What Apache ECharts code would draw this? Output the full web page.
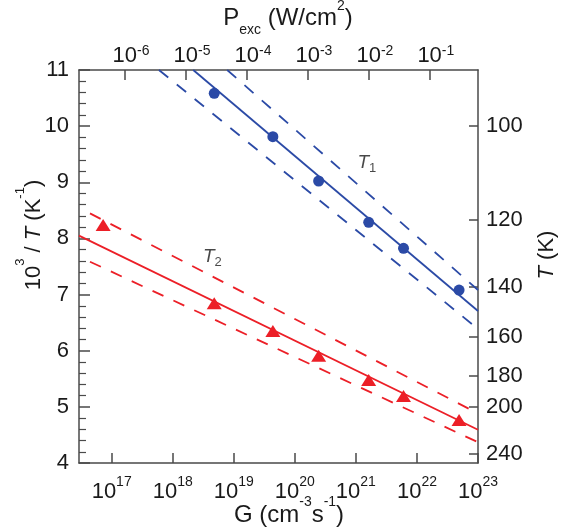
<!DOCTYPE html>
<html>
<head>
<meta charset="utf-8">
<script src="https://cdn.jsdelivr.net/npm/echarts@6/dist/echarts.min.js"></script>
<style>
  html, body { margin: 0; padding: 0; background: #fff; }
  #chart { width: 572px; height: 532px; }
</style>
</head>
<body>
<div id="chart"></div>
<script>
// Generation rate is stored as log10 G (cm^-3 s^-1); temperatures as 1000/T (K^-1).
const gT1 = [18.68, 19.64, 20.39, 21.21, 21.78, 22.69];
const invT1 = [10.585, 9.812, 9.023, 8.287, 7.824, 7.081];
const gT2 = [16.86, 18.68, 19.64, 20.39, 21.21, 21.78, 22.69];
const invT2 = [8.239, 6.844, 6.351, 5.911, 5.478, 5.193, 4.766];

// Fitted lines and their upper / lower bounds, as [log10 G, 1000/T] end points.
const fitT1 = [[18.336, 11], [23, 6.707]];
const fitT1Hi = [[18.892, 11], [23, 7.081]];
const fitT1Lo = [[17.774, 11], [23, 6.387]];
const fitT2 = [[16.465, 8.05], [23, 4.593]];
const fitT2Hi = [[16.645, 8.447], [23, 4.883]];
const fitT2Lo = [[16.645, 7.585], [23, 4.37]];

// Axis ranges and ticks.
const gRange = [16.465, 23];          // log10 G
const pRange = [-6.755, -0.21];       // log10 P_exc (W/cm^2)
const invRange = [4, 11];             // 1000/T
const gTicks = [17, 18, 19, 20, 21, 22, 23];
const pTicks = [-6, -5, -4, -3, -2, -1];
const tempTicks = [100, 120, 140, 160, 180, 200, 240];

// Curve names placed next to the lines, [log10 G, 1000/T].
const curveNames = [
  { sub: '1', at: [21.18, 9.343] },
  { sub: '2', at: [18.65, 7.669] }
];

const FONT = '"Liberation Sans", Arial, sans-serif';
const INK = '#1a1a1a';
const AXIS = '#4a4a4a';
const BLUE = '#2b4aa6';
const RED = '#ec1f27';

const frameLine = { show: true, onZero: false, lineStyle: { color: AXIS, width: 1.5 } };
const tickStyle = { color: AXIS, width: 1.5 };

// "10" with a raised exponent; lineH sets how far the exponent sits above the base.
function powRich(padLeft, lineH) {
  return {
    b: { fontSize: 22, fontFamily: FONT, color: INK, lineHeight: lineH, verticalAlign: 'bottom', padding: [0, 0, 0, padLeft] },
    s: { fontSize: 14, fontFamily: FONT, color: INK, lineHeight: 12, verticalAlign: 'top' }
  };
}
const powLabel = v => '{b|10}{s|' + v + '}';

const invTemp = tempTicks.map(t => 1000 / t);

const chart = echarts.init(document.getElementById('chart'), null, { renderer: 'canvas' });

const lineSeries = (data, color, dashed) => ({
  type: 'line',
  data: data,
  xAxisIndex: 0,
  yAxisIndex: 0,
  symbol: 'none',
  silent: true,
  lineStyle: { color: color, width: 1.8, type: dashed ? [12, 11] : 'solid' },
  z: 2
});

chart.setOption({
  animation: false,
  backgroundColor: '#fff',
  grid: { left: 79, right: 94, top: 70, bottom: 69, containLabel: false, outerBoundsMode: 'none' },
  xAxis: [
    {
      type: 'value', position: 'bottom', min: gRange[0], max: gRange[1],
      axisLine: frameLine,
      axisTick: { show: true, inside: true, length: 10, lineStyle: tickStyle, customValues: gTicks },
      axisLabel: { margin: 12, customValues: gTicks, formatter: powLabel, rich: powRich(0, 28) },
      splitLine: { show: false }
    },
    {
      type: 'value', position: 'top', min: pRange[0], max: pRange[1],
      axisLine: frameLine,
      axisTick: { show: true, inside: true, length: 10, lineStyle: tickStyle, customValues: pTicks },
      axisLabel: { margin: 3, customValues: pTicks, formatter: powLabel, rich: powRich(12, 23) },
      splitLine: { show: false }
    }
  ],
  yAxis: [
    {
      type: 'value', position: 'left', min: invRange[0], max: invRange[1], interval: 1,
      axisLine: frameLine,
      axisTick: { show: true, inside: true, length: 11, lineStyle: tickStyle },
      minorTick: { show: true, splitNumber: 5, length: 7, lineStyle: { color: AXIS, width: 1.2 } },
      axisLabel: { margin: 10, fontSize: 22, fontFamily: FONT, color: INK },
      splitLine: { show: false }
    },
    {
      type: 'value', position: 'right', min: invRange[0], max: invRange[1],
      axisLine: frameLine,
      axisTick: { show: true, inside: true, length: 9, lineStyle: tickStyle, customValues: invTemp },
      axisLabel: {
        margin: 8, fontSize: 22, fontFamily: FONT, color: INK,
        customValues: invTemp,
        formatter: v => String(Math.round(1000 / v))
      },
      splitLine: { show: false }
    }
  ],
  graphic: [
    {
      type: 'text', x: 288, y: 18, silent: true,
      style: {
        text: '{m|P}{sub|exc}{m| (W/cm}{sup|2}{m|)}',
        align: 'center', verticalAlign: 'middle',
        rich: {
          m: { fontSize: 24, fontFamily: FONT, fill: INK, lineHeight: 38, verticalAlign: 'middle' },
          sub: { fontSize: 14, fontFamily: FONT, fill: INK, lineHeight: 13, verticalAlign: 'bottom' },
          sup: { fontSize: 14, fontFamily: FONT, fill: INK, lineHeight: 25, verticalAlign: 'top' }
        }
      }
    },
    {
      type: 'text', x: 289, y: 515, silent: true,
      style: {
        text: '{m|G (cm}{sup|-3}{m|s}{sup|-1}{m|)}',
        align: 'center', verticalAlign: 'middle',
        rich: {
          m: { fontSize: 24, fontFamily: FONT, fill: INK, lineHeight: 40, verticalAlign: 'middle' },
          sup: { fontSize: 14, fontFamily: FONT, fill: INK, lineHeight: 15, verticalAlign: 'top' }
        }
      }
    },
    {
      type: 'text', x: 34, y: 235, rotation: Math.PI / 2, silent: true,
      style: {
        text: '{m|10}{sup|3}{m| / }{it|T}{m| (K}{sup|-1}{m|)}',
        align: 'center', verticalAlign: 'middle',
        rich: {
          m: { fontSize: 22, fontFamily: FONT, fill: INK, lineHeight: 40, verticalAlign: 'middle' },
          it: { fontSize: 22, fontFamily: FONT, fontStyle: 'italic', fill: INK, lineHeight: 40, verticalAlign: 'middle' },
          sup: { fontSize: 13, fontFamily: FONT, fill: INK, lineHeight: 15, verticalAlign: 'top' }
        }
      }
    },
    {
      type: 'text', x: 547, y: 255, rotation: Math.PI / 2, silent: true,
      style: {
        text: '{it|T}{m| (K)}',
        align: 'center', verticalAlign: 'middle',
        rich: {
          m: { fontSize: 22, fontFamily: FONT, fill: INK },
          it: { fontSize: 22, fontFamily: FONT, fontStyle: 'italic', fill: INK }
        }
      }
    }
  ],
  series: [
    lineSeries(fitT1Hi, BLUE, true),
    lineSeries(fitT1Lo, BLUE, true),
    lineSeries(fitT1, BLUE, false),
    lineSeries(fitT2Hi, RED, true),
    lineSeries(fitT2Lo, RED, true),
    lineSeries(fitT2, RED, false),
    {
      type: 'scatter', xAxisIndex: 0, yAxisIndex: 0,
      symbol: 'circle', symbolSize: 11,
      itemStyle: { color: BLUE, opacity: 1 },
      data: gT1.map((g, i) => [g, invT1[i]]),
      z: 3
    },
    {
      type: 'scatter', xAxisIndex: 0, yAxisIndex: 0,
      symbol: 'triangle', symbolSize: [15, 12],
      itemStyle: { color: RED, opacity: 1 },
      data: gT2.map((g, i) => [g, invT2[i]]),
      z: 3
    },
    {
      type: 'scatter', xAxisIndex: 0, yAxisIndex: 0,
      symbolSize: 0, silent: true,
      data: curveNames.map(c => ({ value: c.at })),
      label: {
        show: true, position: 'inside',
        formatter: p => '{t|T}{n|' + curveNames[p.dataIndex].sub + '}',
        rich: {
          t: { fontSize: 19, fontFamily: FONT, fontStyle: 'italic', color: INK, lineHeight: 24, verticalAlign: 'middle' },
          n: { fontSize: 13, fontFamily: FONT, color: INK, lineHeight: 12, verticalAlign: 'bottom' }
        }
      }
    }
  ]
});
</script>
</body>
</html>
